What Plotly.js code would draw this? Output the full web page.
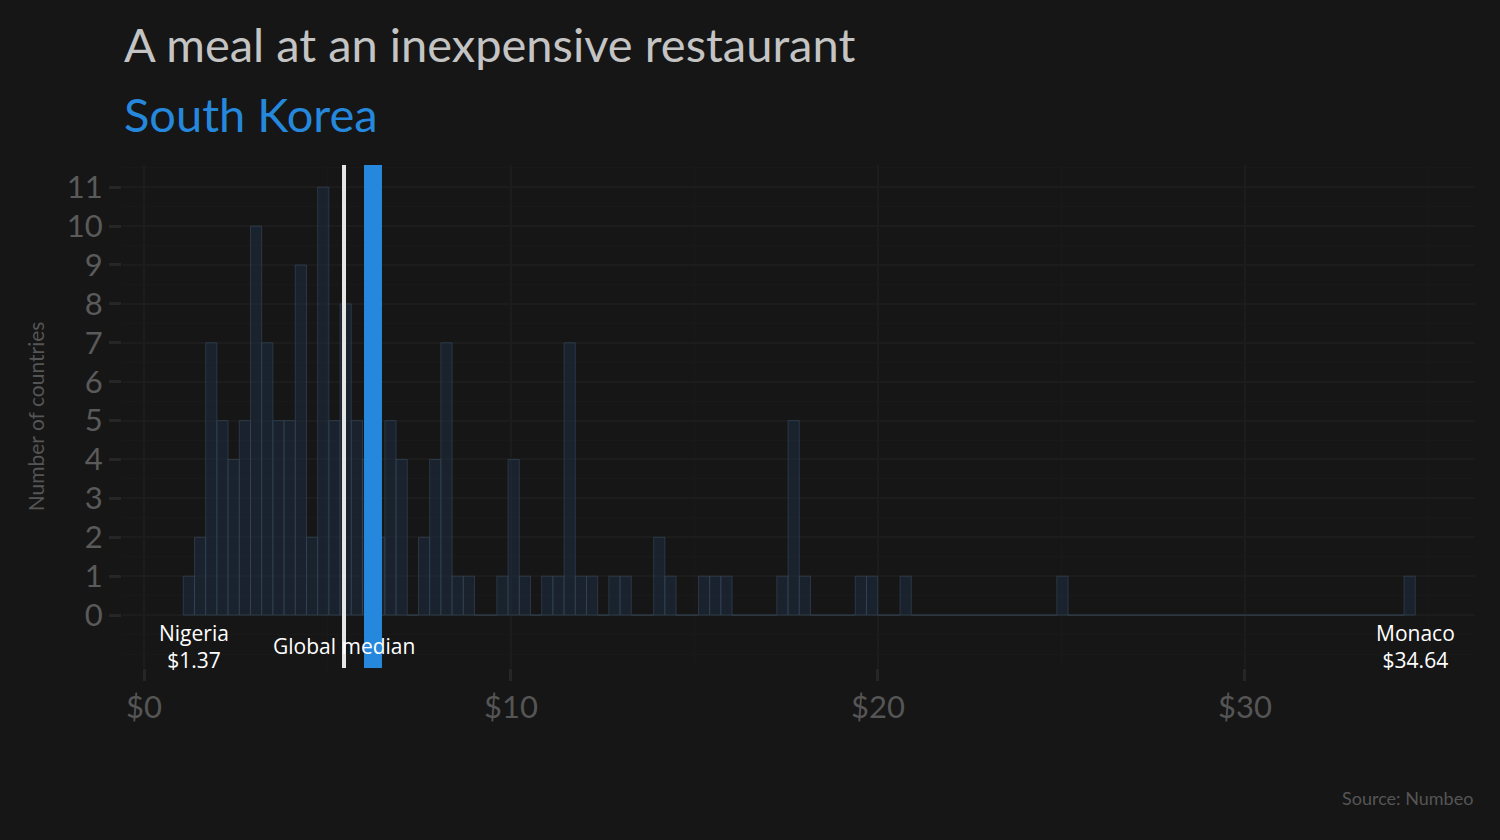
<!DOCTYPE html>
<html>
<head>
<meta charset="utf-8">
<script src="https://cdn.plot.ly/plotly-3.0.1.min.js"></script>
<style>
  html, body { margin: 0; padding: 0; background: #161616; }
  #chart { width: 1500px; height: 840px; }
</style>
</head>
<body>
<div id="chart"></div>
<script>
// histogram of meal prices, 110 bins
const binStart = 1.07;
const binWidth = 0.3052;
const counts = [
  1, 2, 7, 5, 4, 5, 10, 7, 5, 5,
  9, 2, 11, 5, 8, 5, 4, 2, 5, 4,
  0, 2, 4, 7, 1, 1, 0, 0, 1, 4,
  1, 0, 1, 1, 7, 1, 1, 0, 1, 1,
  0, 0, 2, 1, 0, 0, 1, 1, 1, 0,
  0, 0, 0, 1, 5, 1, 0, 0, 0, 0,
  1, 1, 0, 0, 1, 0, 0, 0, 0, 0,
  0, 0, 0, 0, 0, 0, 0, 0, 1, 0,
  0, 0, 0, 0, 0, 0, 0, 0, 0, 0,
  0, 0, 0, 0, 0, 0, 0, 0, 0, 0,
  0, 0, 0, 0, 0, 0, 0, 0, 0, 1
];
const globalMedian = 5.45;
const koreaPrice = 6.24;
const koreaBand = 0.49;
const cheapest = { name: 'Nigeria', price: 1.37 };
const dearest = { name: 'Monaco', price: 34.64 };
const xTicks = [0, 10, 20, 30];
const yTicks = [0, 1, 2, 3, 4, 5, 6, 7, 8, 9, 10, 11];

const binCenters = counts.map((_, i) => binStart + (i + 0.5) * binWidth);

const trace = {
  type: 'bar',
  x: binCenters,
  y: counts,
  width: binWidth,
  marker: { color: 'rgba(28,44,62,0.6)', line: { color: 'rgba(60,78,98,0.55)', width: 1 } },
  hoverinfo: 'x+y'
};

const annFont = { family: 'Open Sans, sans-serif', size: 21, color: '#ffffff' };

const layout = {
  width: 1500, height: 840,
  paper_bgcolor: '#161616',
  plot_bgcolor: '#161616',
  margin: { l: 122, r: 25, t: 165, b: 172 },
  showlegend: false,
  bargap: 0,
  xaxis: {
    range: [-0.6, 36.27],
    tickvals: xTicks,
    ticktext: xTicks.map(v => '$' + v),
    tickfont: { family: 'Lato, sans-serif', size: 31, color: '#555555' },
    ticks: 'outside', ticklen: 12, tickcolor: '#262626', tickwidth: 3,
    showgrid: true, gridcolor: '#1c1c1c', gridwidth: 2,
    minor: { dtick: 5, showgrid: true, gridcolor: '#191919', gridwidth: 1 },
    zeroline: false, showline: false, fixedrange: true
  },
  yaxis: {
    range: [-1.36, 11.57],
    tickvals: yTicks,
    tickfont: { family: 'Lato, sans-serif', size: 31, color: '#5a5a5a' },
    ticks: 'outside', ticklen: 12, tickcolor: '#262626', tickwidth: 3,
    showgrid: true, gridcolor: '#1c1c1c', gridwidth: 2,
    minor: { dtick: 0.5, showgrid: true, gridcolor: '#191919', gridwidth: 1 },
    zeroline: false, showline: false,
    title: { text: 'Number of countries', font: { family: 'Lato, sans-serif', size: 21, color: '#555555' }, standoff: 16 }
  },
  shapes: [
    { type: 'rect', xref: 'x', yref: 'paper', x0: koreaPrice - koreaBand / 2, x1: koreaPrice + koreaBand / 2,
      y0: 0, y1: 1, fillcolor: '#2588dc', line: { width: 0 }, layer: 'above' },
    { type: 'line', xref: 'x', yref: 'paper', x0: globalMedian, x1: globalMedian,
      y0: 0, y1: 1, line: { color: '#e6e6e6', width: 4 }, layer: 'above' }
  ],
  annotations: [
    { text: 'A meal at an inexpensive restaurant', xref: 'paper', yref: 'paper', x: 0, y: 1, xanchor: 'left', yanchor: 'middle',
      yshift: 121, showarrow: false, font: { family: 'Lato, sans-serif', size: 47, color: '#c4c4c4' } },
    { text: 'South Korea', xref: 'paper', yref: 'paper', x: 0, y: 1, xanchor: 'left', yanchor: 'middle',
      yshift: 51, showarrow: false, font: { family: 'Lato, sans-serif', size: 47, color: '#2588dc' } },
    { text: cheapest.name + '<br>$' + cheapest.price.toFixed(2), x: cheapest.price, y: -0.8, showarrow: false,
      font: annFont, align: 'center' },
    { text: dearest.name + '<br>$' + dearest.price.toFixed(2), x: dearest.price, y: -0.8, showarrow: false,
      font: annFont, align: 'center' },
    { text: 'Global median', x: globalMedian, y: -0.8, showarrow: false, font: annFont },
    { text: 'Source: Numbeo', xref: 'paper', yref: 'paper', x: 1, y: 0, yshift: -130, xanchor: 'right', yanchor: 'middle',
      showarrow: false, font: { family: 'Lato, sans-serif', size: 18, color: '#555555' } }
  ]
};

Plotly.newPlot('chart', [trace], layout, { displayModeBar: false, staticPlot: true });
</script>
</body>
</html>
